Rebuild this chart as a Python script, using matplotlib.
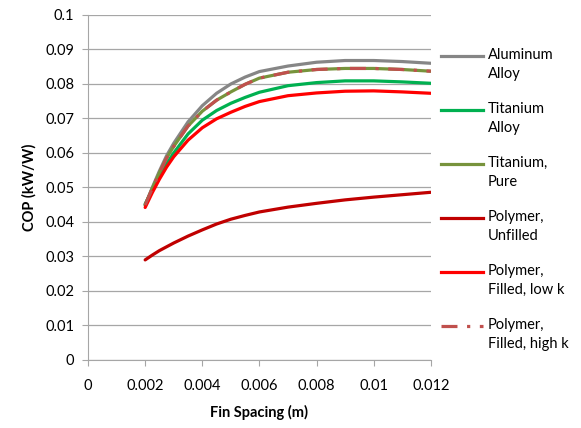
import matplotlib
matplotlib.use("Agg")
import matplotlib.pyplot as plt
from matplotlib.lines import Line2D

plt.rcParams['font.family'] = ['Lato', 'DejaVu Sans']

# fin spacing (m)
spacing = [0.002, 0.00225, 0.0025, 0.00275, 0.003, 0.0035, 0.004, 0.0045, 0.005,
           0.0055, 0.006, 0.007, 0.008, 0.009, 0.010, 0.011, 0.012]

aluminum_alloy = [0.0449, 0.0500, 0.0548, 0.0592, 0.0628, 0.0690, 0.0737, 0.0773, 0.0800,
                  0.0820, 0.0836, 0.0852, 0.0863, 0.0868, 0.0868, 0.0865, 0.0860]
titanium_alloy = [0.0452, 0.0493, 0.0532, 0.0568, 0.0600, 0.0655, 0.0695, 0.0723, 0.0744,
                  0.0761, 0.0776, 0.0795, 0.0804, 0.0809, 0.0809, 0.0806, 0.0802]
titanium_pure = [0.0449, 0.0497, 0.0543, 0.0585, 0.0619, 0.0678, 0.0721, 0.0753, 0.0777,
                 0.0799, 0.0817, 0.0834, 0.0842, 0.0845, 0.0845, 0.0842, 0.0837]
polymer_unfilled = [0.0290, 0.0304, 0.0317, 0.0328, 0.0339, 0.0359, 0.0377, 0.0394, 0.0408,
                    0.0419, 0.0429, 0.0443, 0.0454, 0.0464, 0.0472, 0.0479, 0.0486]
polymer_low_k = [0.0442, 0.0485, 0.0524, 0.0559, 0.0589, 0.0637, 0.0673, 0.0699, 0.0718,
                 0.0735, 0.0749, 0.0766, 0.0774, 0.0779, 0.0780, 0.0777, 0.0773]
polymer_high_k = [0.0449, 0.0497, 0.0543, 0.0585, 0.0619, 0.0678, 0.0721, 0.0753, 0.0777,
                  0.0799, 0.0817, 0.0834, 0.0842, 0.0845, 0.0845, 0.0842, 0.0837]

series = [
    ("Aluminum\nAlloy", aluminum_alloy, "#868686", "-"),
    ("Titanium\nAlloy", titanium_alloy, "#00B050", "-"),
    ("Titanium,\nPure", titanium_pure, "#77933C", "-"),
    ("Polymer,\nUnfilled", polymer_unfilled, "#C00000", "-"),
    ("Polymer,\nFilled, low k", polymer_low_k, "#FF0000", "-"),
    ("Polymer,\nFilled, high k", polymer_high_k, "#C0504D", (0, (5, 3, 1, 3))),
]

fig = plt.figure(figsize=(5.81, 4.28), dpi=100)
ax = fig.add_axes([0.1515, 0.159, 0.590, 0.806])

for label, vals, color, ls in series:
    ax.plot(spacing, vals, color=color, lw=2.3, ls=ls, solid_capstyle='round',
            solid_joinstyle='round')

ax.set_xlim(0, 0.012)
ax.set_ylim(0, 0.1)
ax.set_xticks([0, 0.002, 0.004, 0.006, 0.008, 0.01, 0.012])
ax.set_xticklabels(["0", "0.002", "0.004", "0.006", "0.008", "0.01", "0.012"])
ax.set_yticks([i / 100 for i in range(11)])
ax.set_yticklabels(["0"] + ["0.0%d" % i for i in range(1, 10)] + ["0.1"])
ax.grid(axis='y', color='#A6A6A6', lw=0.9)
ax.set_axisbelow(True)
for s in ['top', 'right']:
    ax.spines[s].set_visible(False)
for s in ['left', 'bottom']:
    ax.spines[s].set_color('#A6A6A6')
ax.tick_params(axis='both', colors='#A6A6A6', labelcolor='black', labelsize=10.5,
               length=4, direction='out')
ax.tick_params(axis='x', pad=10)
ax.tick_params(axis='y', pad=6)

ax.set_xlabel("Fin Spacing (m)", fontsize=10.5, fontweight='bold', labelpad=8)
ax.set_ylabel("COP (kW/W)", fontsize=10.5, fontweight='bold', labelpad=6)

# legend drawn on the right, handle aligned with the first text line
W, H = 581, 428
for i, (label, vals, color, ls) in enumerate(series):
    yp = 56 + i * 54
    fig.add_artist(Line2D([441 / W, 483 / W], [1 - yp / H, 1 - yp / H],
                          color=color, lw=2.3, ls=ls, transform=fig.transFigure))
    fig.text(488 / W, 1 - (yp - 8) / H, label, fontsize=10.5, va='top', ha='left',
             linespacing=1.45)

fig.savefig("out.png", dpi=100)
